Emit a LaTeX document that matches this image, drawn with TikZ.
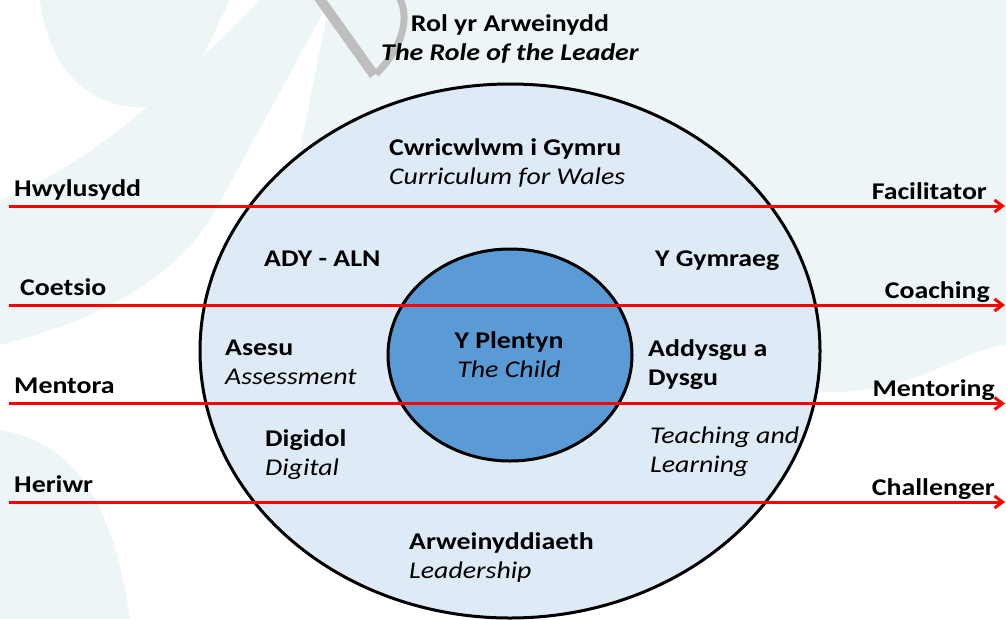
\documentclass[tikz,border=0pt]{standalone}
\usepackage{fontspec}
\setmainfont{Carlito}[FakeStretch=1.16]
\usetikzlibrary{shapes.geometric,arrows.meta}
\definecolor{mist}{HTML}{EEF5F7}
\definecolor{pale}{HTML}{DEEAF6}
\definecolor{childblue}{HTML}{5B9BD5}
\definecolor{rolered}{HTML}{FF0000}
\definecolor{stamp}{HTML}{BEBEBE}
\begin{document}
\begin{tikzpicture}[x=1pt, y=-1pt,
    lbl/.style={inner sep=0pt, align=left, font=\bfseries\fontsize{24}{29}\selectfont},
    ring/.style={ellipse, draw, line width=3pt, inner sep=0pt},
    role/.style={rolered, line width=3pt, -{Straight Barb[length=8pt,width=12pt]}}]
  \useasboundingbox (0,0) rectangle (1006,619);
  \clip (0,0) rectangle (1006,619);
  \fill[mist] (330,0) -- (1006,0) -- (1006,345) .. controls (950,352) and (920,395) .. (820,392)
    -- (500,400) -- (300,150) -- cycle;
  \fill[mist] (40,0) .. controls (50,80) and (100,110) .. (145,107) .. controls (190,100) and (200,60) .. (230,0) -- cycle;
  \fill[mist] (260,0) -- (330,0) -- (210,220) .. controls (170,280) and (100,320) .. (0,345)
    -- (0,200) .. controls (100,160) and (180,80) .. cycle;
  \fill[mist] (0,430) .. controls (60,440) and (110,480) .. (130,619) -- (0,619) -- cycle;
  \draw[stamp, line width=10pt] (317,-5) -- (374,75);
  \draw[stamp, line width=7pt] (376,74) .. controls (405,45) and (410,15) .. (398,-5);
  \node[ring, fill=pale, minimum width=620pt, minimum height=534pt] (world) at (510,351) {};
  \node[ring, fill=childblue, minimum width=244pt, minimum height=212pt] (child) at (510,355) {};
  \foreach \n/\y/\lw/\lx/\rw/\rx in {1/206/Hwylusydd/14/Facilitator/987, 2/305/Coetsio/20/Coaching/990,
      3/403.5/Mentora/14/Mentoring/995, 4/502/Heriwr/14/Challenger/995} {
    \coordinate (from\n) at (9,\y);
    \coordinate (to\n) at (1005,\y);
    \draw[role] (from\n) -- (to\n);
    \node[lbl, anchor=base west] (west\n) at (\lx,\y-10) {\lw};
    \node[lbl, anchor=base east] (east\n) at (\rx,\y-7) {\rw};
  }
  \node[lbl, align=center, anchor=base] (leader) at (510,60) {Rol yr Arweinydd\\\itshape The Role of the Leader};
  \node[lbl, anchor=base west] (cwricwlwm) at (389,184) {Cwricwlwm i Gymru\\\mdseries\itshape Curriculum for Wales};
  \node[lbl, anchor=base west] (adyaln) at (264,266) {ADY - ALN};
  \node[lbl, anchor=base west] (gymraeg) at (655,266) {Y Gymraeg};
  \node[lbl, anchor=base west] (asesu) at (225,384) {Asesu\\\mdseries\itshape Assessment};
  \node[lbl, align=center, anchor=base] (plentyn) at (509,377) {Y Plentyn\\\mdseries\itshape The Child};
  \node[lbl, anchor=base west] (addysgu) at (648,385) {Addysgu a\\Dysgu};
  \node[lbl, anchor=base west, font=\mdseries\itshape\fontsize{24}{29}\selectfont] (teaching) at (650,472) {Teaching and\\Learning};
  \node[lbl, anchor=base west] (digidol) at (265,475) {Digidol\\\mdseries\itshape Digital};
  \node[lbl, anchor=base west] (arwein) at (409,578) {Arweinyddiaeth\\\mdseries\itshape Leadership};
\end{tikzpicture}
\end{document}
